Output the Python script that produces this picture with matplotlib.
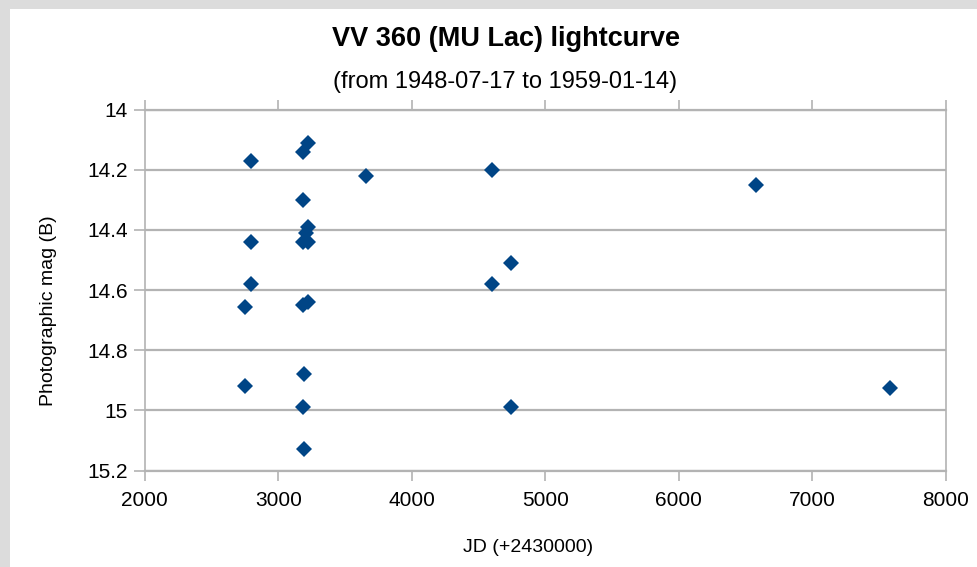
import matplotlib
matplotlib.use("Agg")
import matplotlib.pyplot as plt
from matplotlib.patches import Rectangle

plt.rcParams['font.family'] = ['Liberation Sans', 'DejaVu Sans']

title = "VV 360 (MU Lac) lightcurve"
subtitle = "(from 1948-07-17 to 1959-01-14)"
xlabel = "JD (+2430000)"
ylabel = "Photographic mag (B)"

jd = [2800, 2800, 2800, 2750, 2750, 3183, 3225, 3183, 3225, 3210, 3183, 3225,
      3183, 3225, 3190, 3183, 3190, 3658, 4600, 4600, 4746, 4746, 6582, 7585]
mag = [14.17, 14.44, 14.58, 14.655, 14.92, 14.14, 14.11, 14.30, 14.39, 14.41, 14.44, 14.44,
       14.65, 14.64, 14.88, 14.99, 15.13, 14.22, 14.20, 14.58, 14.51, 14.99, 14.25, 14.925]

xticks = [2000, 3000, 4000, 5000, 6000, 7000, 8000]
yticks = [14, 14.2, 14.4, 14.6, 14.8, 15, 15.2]
yticklabels = ["14", "14.2", "14.4", "14.6", "14.8", "15", "15.2"]

W, H = 978, 567
fig = plt.figure(figsize=(W / 100, H / 100), dpi=100, facecolor='#dcdcdc')
fig.patches.append(Rectangle((10 / W, 0), 1 - 10 / W, 1 - 9 / H, transform=fig.transFigure,
                             facecolor='white', edgecolor='none', zorder=-10))

L, R, T, B = 144.7, 945.7, 109.5, 470.5
ax = fig.add_axes([L / W, 1 - B / H, (R - L) / W, (B - T) / H])
ax.set_zorder(5)
ax.set_facecolor('white')
ax.set_xlim(2000, 8000)
ax.set_ylim(15.2, 14)
ax.set_xticks(xticks)
ax.set_xticklabels([str(t) for t in xticks])
ax.set_yticks(yticks)
ax.set_yticklabels(yticklabels)

gc = '#b3b3b3'
ax.grid(axis='y', color=gc, linewidth=1.6)
ax.set_axisbelow(True)
for s in ['top', 'bottom']:
    ax.spines[s].set_color(gc)
    ax.spines[s].set_linewidth(1.6)
for s in ['left', 'right']:
    ax.spines[s].set_color(gc)
    ax.spines[s].set_linewidth(1.2)
ax.tick_params(axis='x', top=True, bottom=True, direction='out', length=7, color=gc,
               width=1.2, labelsize=15, pad=8, labelcolor='black')
ax.tick_params(axis='y', left=True, direction='out', length=8, color=gc, width=1.2,
               labelsize=15, pad=4, labelcolor='black')

ax.plot(jd, mag, linestyle='none', marker='D', markersize=8.5, color='#004586',
        markeredgewidth=0, clip_on=False, zorder=3)

ax.set_xlabel(xlabel, fontsize=14)
ax.set_ylabel(ylabel, fontsize=14)
ax.xaxis.set_label_coords((528.5 - L) / (R - L), (B - 548) / (B - T))
ax.xaxis.label.set_va('center')
ax.yaxis.set_label_coords((49 - L) / (R - L), (B - 311) / (B - T))
ax.yaxis.label.set_va('center')
ax.yaxis.label.set_ha('center')

fig.text(506 / W, 1 - 39 / H, title, fontsize=19.5, fontweight='bold', ha='center', va='center')
fig.text(505 / W, 1 - 82 / H, subtitle, fontsize=17, ha='center', va='center')

fig.savefig('out.png', dpi=100, facecolor=fig.get_facecolor())
